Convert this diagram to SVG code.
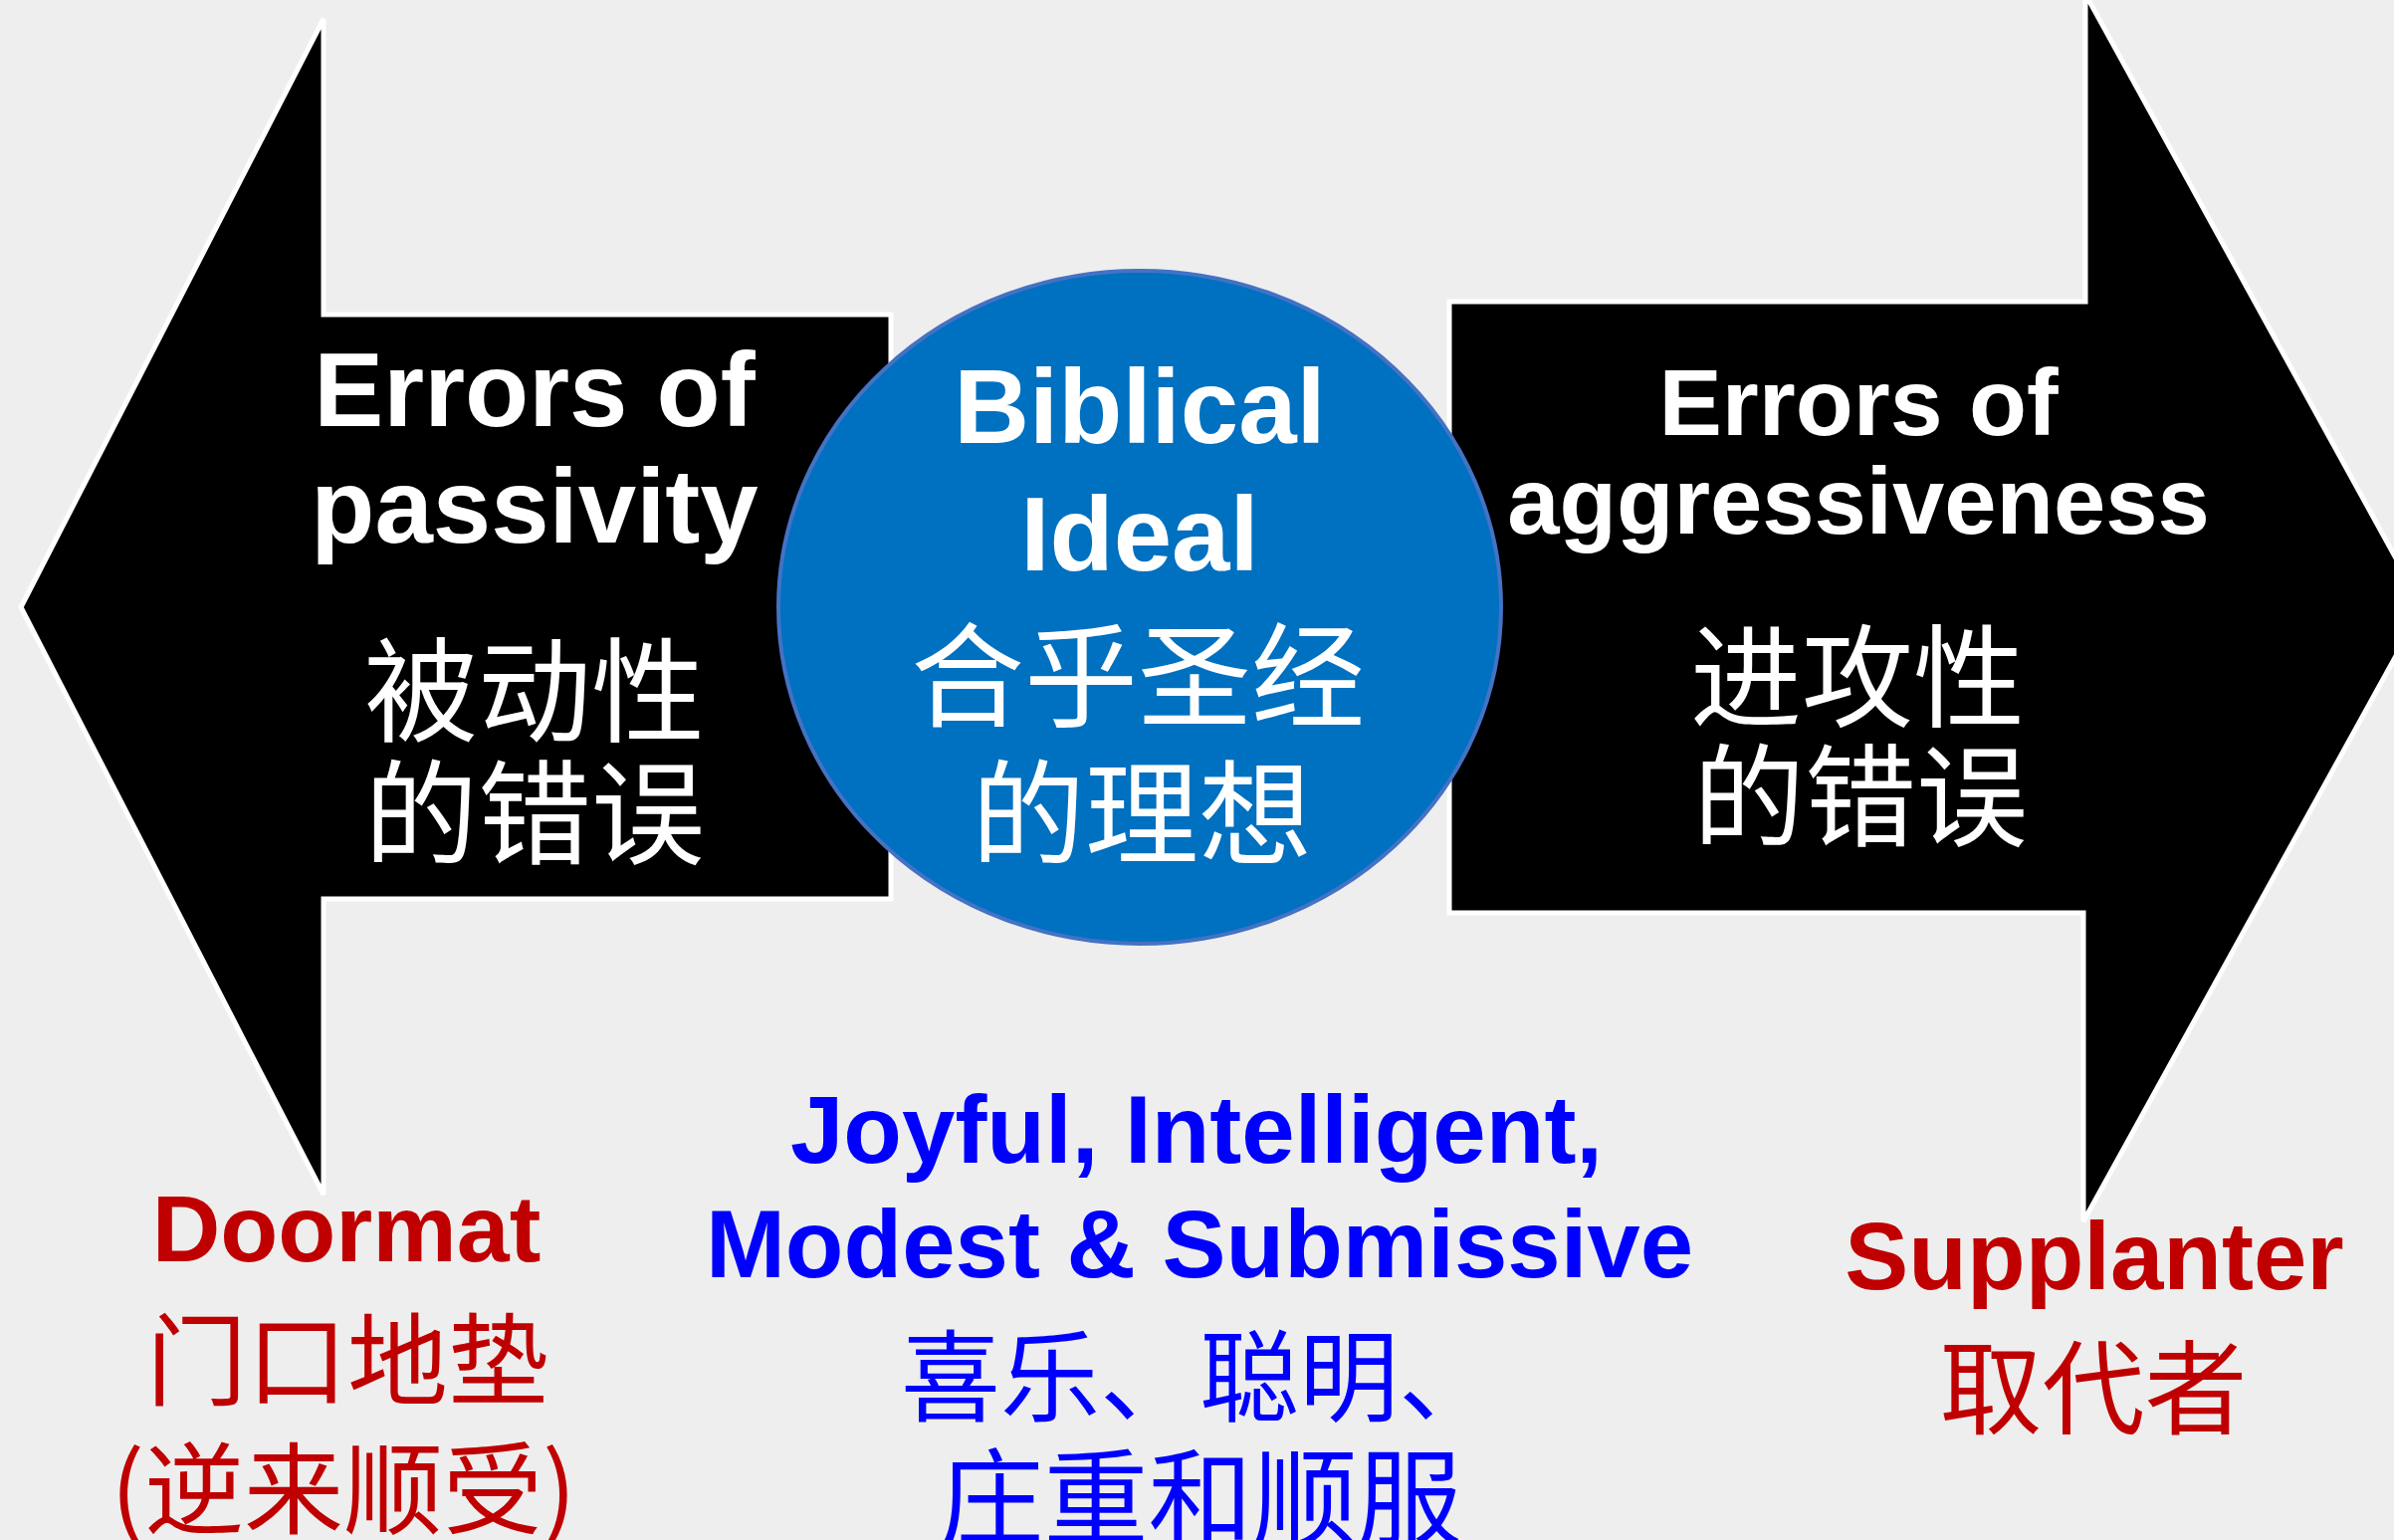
<svg xmlns="http://www.w3.org/2000/svg" width="2405" height="1547" viewBox="0 0 2405 1547">
<style>
.en{font-family:"Liberation Sans",Arial,sans-serif;font-weight:bold;text-anchor:middle}
.zh{font-family:"Noto Sans CJK SC","Noto Sans CJK TC",sans-serif;text-anchor:middle}
.w{fill:#FFFFFF}
.red{fill:#C00000}
.blue{fill:#0000FF}
.arrow{fill:#000000;stroke:#FFFFFF;stroke-width:5;stroke-linejoin:miter}
</style>
<rect x="0" y="0" width="2405" height="1547" fill="#EEEEEE"/>
<g id="left-arrow">
<polygon class="arrow" points="21,610 325,19 325,316 895,316 895,903 325,903 325,1200"/>
<text class="en w" x="537" y="428" font-size="105">Errors of</text>
<text class="en w" x="537" y="545" font-size="105">passivity</text>
<text class="zh w" x="537" y="736" font-size="114">被动性</text>
<text class="zh w" x="537" y="859" font-size="114">的错误</text>
</g>
<g id="right-arrow">
<polygon class="arrow" points="1456,303 2095,303 2095,-6 2434,610 2093,1227 2093,917 1456,917"/>
<text class="en w" x="1867" y="437" font-size="95">Errors of</text>
<text class="en w" x="1867" y="536" font-size="94">aggressiveness</text>
<text class="zh w" x="1866" y="722" font-size="112">进攻性</text>
<text class="zh w" x="1869" y="842" font-size="112">的错误</text>
</g>
<g id="biblical-ideal">
<ellipse cx="1145" cy="610" rx="363" ry="338" fill="#0070C0" stroke="#4472C4" stroke-width="4"/>
<text class="en w" x="1145" y="445" font-size="105">Biblical</text>
<text class="en w" x="1145" y="573" font-size="105">Ideal</text>
<text class="zh w" x="1143" y="721" font-size="114">合乎圣经</text>
<text class="zh w" x="1147" y="859" font-size="114">的理想</text>
</g>
<g id="doormat">
<text class="en red" x="348" y="1267" font-size="95">Doormat</text>
<text class="zh red" x="349" y="1404" font-size="101">门口地垫</text>
<text class="zh red" x="345" y="1533" font-size="100">(逆来顺受)</text>
</g>
<g id="ideal-traits">
<text class="en blue" x="1202" y="1168" font-size="96">Joyful, Intelligent,</text>
<text class="en blue" x="1205" y="1283" font-size="96">Modest &amp; Submissive</text>
<text class="zh blue" x="1205" y="1420" font-size="100">喜乐、聪明、</text>
<text class="zh blue" x="1206" y="1543" font-size="105">庄重和顺服</text>
</g>
<g id="supplanter">
<text class="en red" x="2104" y="1295" font-size="96">Supplanter</text>
<text class="zh red" x="2103" y="1433" font-size="103">取代者</text>
</g>
</svg>
